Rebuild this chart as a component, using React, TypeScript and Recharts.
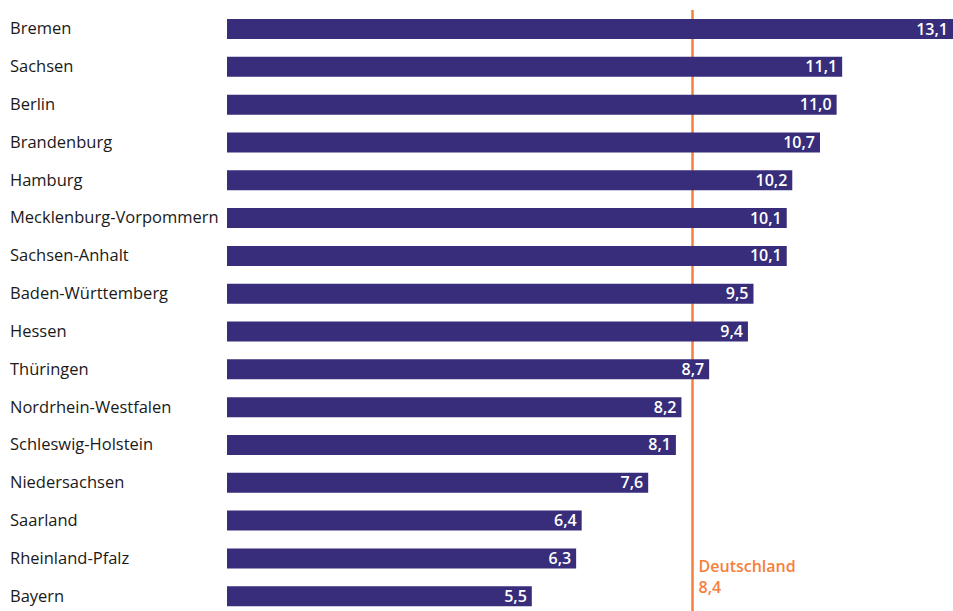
import React from "react";
import { BarChart, Bar, XAxis, YAxis, ReferenceLine, LabelList } from "recharts";

const categories = [
  "Bremen", "Sachsen", "Berlin", "Brandenburg", "Hamburg", "Mecklenburg-Vorpommern",
  "Sachsen-Anhalt", "Baden-Württemberg", "Hessen", "Thüringen", "Nordrhein-Westfalen",
  "Schleswig-Holstein", "Niedersachsen", "Saarland", "Rheinland-Pfalz", "Bayern",
];
const values = [13.1, 11.1, 11.0, 10.7, 10.2, 10.1, 10.1, 9.5, 9.4, 8.7, 8.2, 8.1, 7.6, 6.4, 6.3, 5.5];
const germanyValue = 8.4;
const germanyLabel = "Deutschland";

const data = categories.map((name, i) => ({ name, value: values[i] }));

const FONT = "'Open Sans', 'Noto Sans', sans-serif";
const BAR = "#372d7b";
const ORANGE = "#f57f3b";

const fmt = (v: number) => v.toFixed(1).replace(".", ",");

const CatTick = (props: any) => {
  const { y, payload } = props;
  return (
    <text x={10} y={y} dy={5.5} textAnchor="start" fontFamily={FONT} fontSize={16.5} fill="#1a1a1a">
      {payload.value}
    </text>
  );
};

const ValueLabel = (props: any) => {
  const { x, y, width, height, value } = props;
  return (
    <text x={x + width - 5} y={y + height / 2} dy={5.5} textAnchor="end" fontFamily={FONT} fontSize={16} fontWeight={600} fill="#ffffff">
      {fmt(value)}
    </text>
  );
};

const RefLabel = (props: any) => {
  const { viewBox } = props;
  const x = viewBox.x + 6;
  return (
    <g>
      <text x={x} y={572} fontFamily={FONT} fontSize={16} fontWeight={600} fill={ORANGE}>{germanyLabel}</text>
      <text x={x} y={593} fontFamily={FONT} fontSize={16} fontWeight={600} fill={ORANGE}>{fmt(germanyValue)}</text>
    </g>
  );
};

export default function App() {
  return (
    <div style={{ position: "absolute", left: 0, top: 0, background: "#fff" }}>
      <BarChart
        width={953}
        height={615}
        data={data}
        layout="vertical"
        margin={{ top: 10, right: 0, left: 0, bottom: 0 }}
      >
        <XAxis type="number" domain={[0, 13.1]} hide />
        <YAxis type="category" dataKey="name" width={227} axisLine={false} tickLine={false} tick={<CatTick />} interval={0} />
        <ReferenceLine x={germanyValue} stroke={ORANGE} strokeWidth={2.5} label={<RefLabel />} ifOverflow="visible" zIndex={0} />
        <Bar dataKey="value" fill={BAR} barSize={20} isAnimationActive={false} zIndex={1}>
          <LabelList dataKey="value" content={<ValueLabel />} />
        </Bar>
      </BarChart>
    </div>
  );
}
